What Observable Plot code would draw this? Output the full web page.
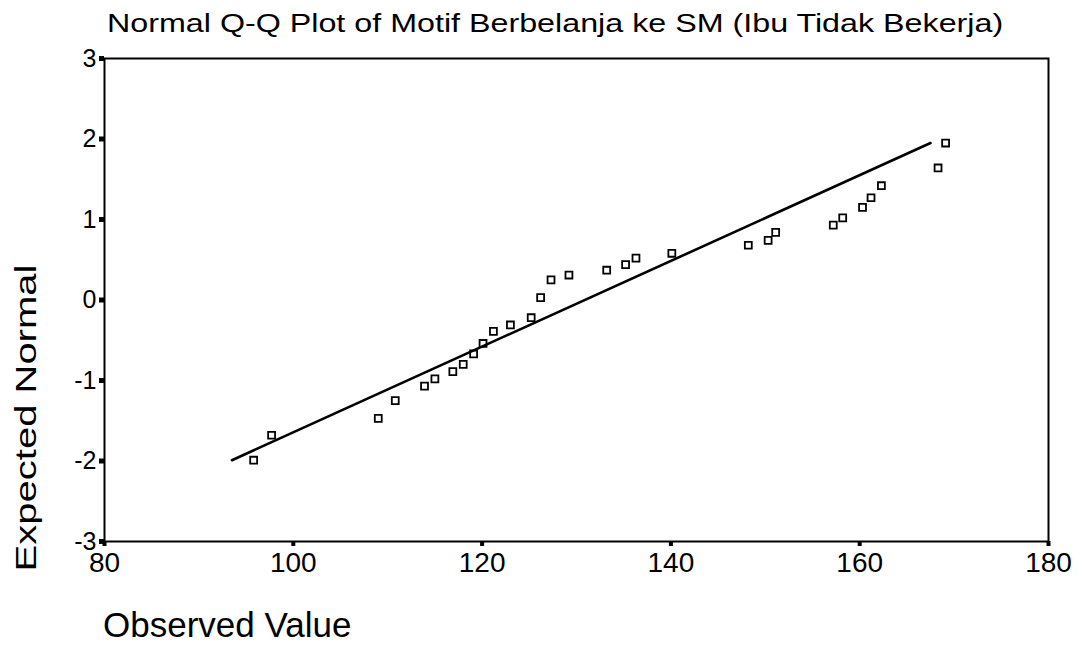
<!DOCTYPE html>
<html>
<head>
<meta charset="utf-8">
<script src="https://cdn.jsdelivr.net/npm/d3@7"></script>
<script src="https://cdn.jsdelivr.net/npm/@observablehq/plot@0.6"></script>
<style>
  html, body { margin: 0; padding: 0; background: #fff; }
  #wrap { position: relative; width: 1086px; height: 649px; overflow: hidden; font-family: "Liberation Sans", Arial, sans-serif; color: #000; }
  #title { height: 50px; line-height: 46px; padding-left: 107px; font-size: 25px; white-space: nowrap; }
  #title span { display: inline-block; transform: scaleX(1.29); transform-origin: left center; }
  #caption { height: 69px; padding-top: 25px; box-sizing: border-box; line-height: 40px; padding-left: 103px; font-size: 35px; white-space: nowrap; }
  #ylab { position: absolute; left: 24.5px; top: 418px; font-size: 40px; line-height: 40px; white-space: nowrap;
          transform: translate(-50%, -50%) rotate(-90deg) scaleY(0.75); transform-origin: center; }
</style>
</head>
<body>
<div id="wrap">
  <div id="title"><span>Normal Q-Q Plot of Motif Berbelanja ke SM (Ibu Tidak Bekerja)</span></div>
  <div id="chart"></div>
  <div id="caption">Observed Value</div>
  <div id="ylab">Expected Normal</div>
</div>
<script>
const observed = [95.8, 97.7, 109.0, 110.8, 113.9, 115.0, 116.9, 118.0, 119.1, 120.1,
                  121.2, 123.0, 125.2, 126.2, 127.3, 129.2, 133.2, 135.2, 136.3, 140.1,
                  148.2, 150.3, 151.1, 157.2, 158.2, 160.3, 161.2, 162.3, 168.3, 169.1];
const expected = [-1.99, -1.68, -1.47, -1.25, -1.07, -0.98, -0.89, -0.80, -0.67, -0.54,
                  -0.39, -0.31, -0.22, 0.03, 0.25, 0.31, 0.37, 0.44, 0.52, 0.58,
                  0.68, 0.74, 0.84, 0.93, 1.02, 1.15, 1.27, 1.42, 1.64, 1.95];
// Reference line endpoints
const lineX = [93.5, 167.5];
const lineY = [-1.99, 1.95];
// Tick values
const xTicks = [80, 100, 120, 140, 160, 180];
const yTicks = [-3, -2, -1, 0, 1, 2, 3];

const points = observed.map((x, i) => ({x, y: expected[i]}));
const line = lineX.map((x, i) => ({x, y: lineY[i]}));

const chart = Plot.plot({
  width: 1086,
  height: 530,
  marginLeft: 104,
  marginRight: 38,
  marginTop: 8,
  marginBottom: 39,
  style: {fontFamily: "'Liberation Sans', Arial, sans-serif", color: "#000", background: "#fff", overflow: "visible"},
  x: {domain: [80, 180]},
  y: {domain: [-3, 3]},
  marks: [
    Plot.axisX({ticks: xTicks, tickSize: 5, tickPadding: 6, strokeWidth: 4, fontSize: 28, label: null, tickFormat: d => String(d)}),
    Plot.axisY({ticks: yTicks, tickSize: 5, tickPadding: 3, strokeWidth: 5, fontSize: 25, label: null, tickFormat: d => String(d)}),
    Plot.frame({stroke: "#000", strokeWidth: 2}),
    Plot.line(line, {x: "x", y: "y", stroke: "#000", strokeWidth: 2.6}),
    Plot.dot(points, {x: "x", y: "y", symbol: "square", r: 3.9, stroke: "#000", strokeWidth: 1.8, fill: "none"})
  ]
});
document.getElementById("chart").appendChild(chart);
</script>
</body>
</html>
